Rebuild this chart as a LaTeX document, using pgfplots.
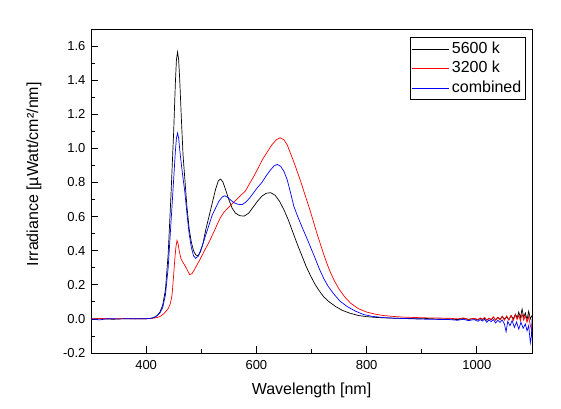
\documentclass[border=0pt]{standalone}
\usepackage{fontspec}
\setmainfont{Liberation Sans}
\usepackage{pgfplots}
\usepackage{pgfplotstable}
\pgfplotsset{compat=1.18}

\pgfplotstableread{
x y
300 0.000
320 0.001
340 -0.002
360 0.001
380 0.000
400 0.001
410 0.004
415 0.010
420 0.020
425 0.040
430 0.080
435 0.170
440 0.380
445 0.720
450 1.100
453 1.380
455 1.520
457 1.565
459 1.520
461 1.400
464 1.170
467 0.960
470 0.830
474 0.660
478 0.530
482 0.450
486 0.400
490 0.375
494 0.370
498 0.390
503 0.440
508 0.520
514 0.600
520 0.680
526 0.760
531 0.810
535 0.820
539 0.805
544 0.760
550 0.700
556 0.650
562 0.620
570 0.605
578 0.603
586 0.620
594 0.655
602 0.690
610 0.720
618 0.737
626 0.740
634 0.725
642 0.690
650 0.640
658 0.580
666 0.510
674 0.440
682 0.375
690 0.310
698 0.255
706 0.205
714 0.165
722 0.130
732 0.100
744 0.072
756 0.050
770 0.033
785 0.020
800 0.013
820 0.008
850 0.004
870 0.003
890 0.001
910 0.002
930 -0.001
950 0.000
965 -0.004
975 0.002
985 -0.003
995 0.001
1002 -0.006
1006 0.004
1010 -0.004
1014 0.006
1018 -0.008
1022 0.003
1026 -0.005
1030 0.010
1034 -0.006
1038 0.008
1042 -0.004
1046 0.015
1050 -0.002
1054 0.012
1058 -0.006
1062 0.020
1066 0.000
1070 0.028
1073 0.005
1076 0.040
1079 0.008
1082 0.058
1085 0.010
1088 0.035
1091 -0.005
1094 0.045
1097 0.000
1100 0.020
}\blackdata

\pgfplotstableread{
x y
300 0.000
320 0.002
340 0.000
360 0.002
380 0.001
400 0.001
410 0.003
420 0.008
425 0.014
430 0.025
435 0.040
440 0.060
444 0.090
447 0.140
450 0.260
452 0.350
454 0.420
456 0.460
458 0.440
460 0.400
463 0.355
467 0.330
471 0.310
475 0.285
479 0.260
483 0.265
487 0.285
492 0.315
498 0.350
505 0.395
513 0.443
520 0.490
527 0.540
534 0.590
541 0.625
548 0.650
556 0.675
564 0.700
572 0.725
580 0.750
588 0.795
596 0.840
604 0.890
612 0.940
620 0.980
628 1.020
636 1.050
643 1.062
650 1.050
656 1.020
662 0.970
668 0.920
674 0.865
680 0.810
686 0.750
692 0.690
698 0.630
704 0.565
710 0.500
716 0.440
722 0.380
728 0.325
734 0.275
742 0.220
750 0.175
760 0.130
771 0.092
785 0.060
800 0.040
815 0.028
830 0.020
850 0.014
870 0.010
890 0.008
910 0.006
930 0.005
950 0.004
965 0.000
975 0.006
985 -0.002
995 0.004
1002 -0.004
1006 0.006
1010 -0.002
1014 0.008
1018 -0.006
1022 0.005
1026 -0.004
1030 0.012
1034 -0.008
1038 0.010
1042 -0.005
1046 0.015
1050 -0.008
1054 0.018
1058 -0.006
1062 0.020
1066 -0.010
1070 0.025
1073 -0.004
1076 0.022
1079 -0.012
1082 0.030
1085 -0.008
1088 0.020
1091 -0.020
1094 0.015
1097 -0.040
1100 -0.070
}\reddata

\pgfplotstableread{
x y
300 0.000
315 -0.006
330 0.001
350 0.000
380 0.001
400 0.001
410 0.004
415 0.009
420 0.018
425 0.035
430 0.065
435 0.140
440 0.300
445 0.560
450 0.820
453 0.980
455 1.060
457 1.090
459 1.060
462 0.960
466 0.850
470 0.750
474 0.620
478 0.500
482 0.420
486 0.370
490 0.355
495 0.370
501 0.420
507 0.480
514 0.550
520 0.610
526 0.650
532 0.690
538 0.715
543 0.722
548 0.712
554 0.695
560 0.680
567 0.672
574 0.670
581 0.685
588 0.710
595 0.740
602 0.770
610 0.800
618 0.840
626 0.875
632 0.897
638 0.906
644 0.895
650 0.865
656 0.815
662 0.740
668 0.660
675 0.600
682 0.545
690 0.485
698 0.423
706 0.360
714 0.295
722 0.238
730 0.192
740 0.148
752 0.103
765 0.072
780 0.045
795 0.025
810 0.015
830 0.008
850 0.004
870 0.002
890 0.000
910 -0.002
930 -0.003
950 -0.004
965 -0.008
975 -0.002
985 -0.010
995 -0.004
1002 -0.014
1006 -0.004
1010 -0.012
1014 -0.002
1018 -0.020
1022 -0.006
1026 -0.016
1030 -0.004
1034 -0.024
1038 -0.008
1042 -0.020
1046 -0.006
1050 -0.030
1053 -0.075
1056 -0.015
1060 -0.040
1064 -0.010
1068 -0.050
1072 -0.018
1076 -0.060
1080 -0.020
1084 -0.055
1088 -0.030
1091 -0.070
1094 -0.040
1097 -0.140
1099 -0.100
1100 0.000
}\bluedata

\begin{document}
\begin{tikzpicture}
\useasboundingbox (-91pt,-55pt) rectangle (470pt,353pt);
\begin{axis}[
  at={(0pt,0pt)}, anchor=south west,
  scale only axis, width=441pt, height=324pt,
  xmin=300, xmax=1100, ymin=-0.2, ymax=1.7,
  xtick={400,600,800,1000}, minor xtick={500,700,900},
  ytick={-0.2,0,0.2,0.4,0.6,0.8,1.0,1.2,1.4,1.6},
  minor ytick={-0.1,0.1,0.3,0.5,0.7,0.9,1.1,1.3,1.5},
  tick pos=left, tick align=inside,
  major tick length=7pt, minor tick length=4pt,
  axis line style={line width=0.8pt},
  every tick/.style={black, line width=0.8pt},
  /pgf/number format/assume math mode=true,
  /pgf/number format/1000 sep={},
  tick label style={font=\fontsize{13}{13}\selectfont},
  xticklabel style={yshift=-4pt},
  yticklabel style={xshift=-2pt, /pgf/number format/fixed, /pgf/number format/fixed zerofill, /pgf/number format/precision=1},
  label style={font=\fontsize{16}{16}\selectfont},
  xlabel={Wavelength [nm]},
  ylabel={Irradiance [µWatt/cm²/nm]},
  xlabel style={at={(axis description cs:0.5,-0.114)}, anchor=center},
  ylabel style={at={(axis description cs:-0.129,0.552)}, anchor=center},
  legend cell align=left,
  legend image code/.code={\draw[#1] (0pt,0pt) -- (37pt,0pt);},
  legend style={at={(axis description cs:0.9857,0.9744)}, anchor=north east,
    draw=black, line width=0.8pt, inner sep=1.5pt,
    font=\fontsize{16}{16}\selectfont,
    nodes={inner ysep=2.5pt, inner xsep=2.5pt, text height=11.5pt, text depth=3pt}},
]
\addplot[black, line width=0.7pt] table[x=x,y=y] {\blackdata};
\addlegendentry{5600 k}
\addplot[red, line width=0.7pt] table[x=x,y=y] {\reddata};
\addlegendentry{3200 k}
\addplot[blue, line width=0.7pt] table[x=x,y=y] {\bluedata};
\addlegendentry{combined}
\end{axis}
\end{tikzpicture}
\end{document}
